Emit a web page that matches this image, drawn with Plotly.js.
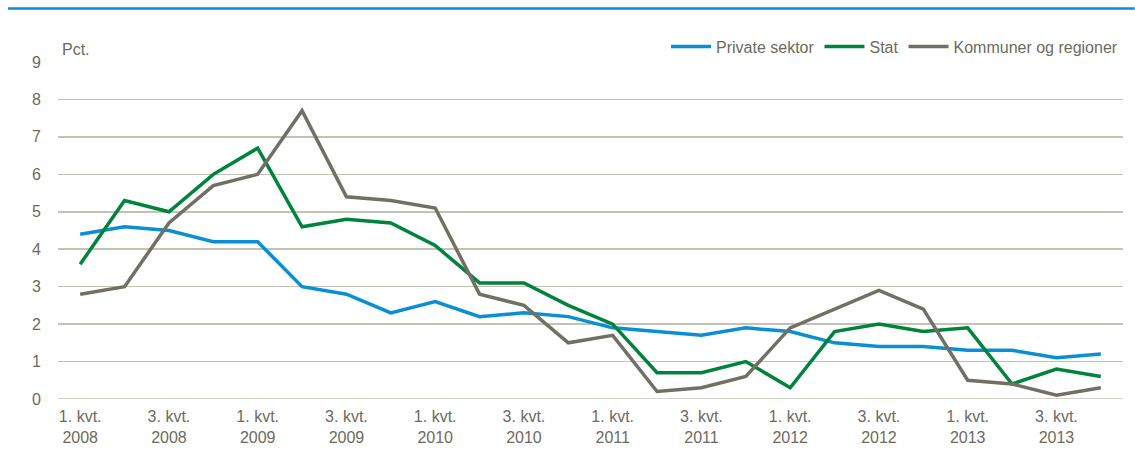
<!DOCTYPE html>
<html>
<head>
<meta charset="utf-8">
<script src="https://cdn.plot.ly/plotly-3.0.1.min.js"></script>
<style>html,body{margin:0;padding:0;background:#fff;}#chart{width:1135px;height:471px;}</style>
</head>
<body>
<div id="chart"></div>
<script>
const quarters = [
  "2008K1","2008K2","2008K3","2008K4",
  "2009K1","2009K2","2009K3","2009K4",
  "2010K1","2010K2","2010K3","2010K4",
  "2011K1","2011K2","2011K3","2011K4",
  "2012K1","2012K2","2012K3","2012K4",
  "2013K1","2013K2","2013K3","2013K4"
];
const privateSektor = [4.4,4.6,4.5,4.2,4.2,3.0,2.8,2.3,2.6,2.2,2.3,2.2,1.9,1.8,1.7,1.9,1.8,1.5,1.4,1.4,1.3,1.3,1.1,1.2];
const stat = [3.6,5.3,5.0,6.0,6.7,4.6,4.8,4.7,4.1,3.1,3.1,2.5,2.0,0.7,0.7,1.0,0.3,1.8,2.0,1.8,1.9,0.4,0.8,0.6];
const kommuner = [2.8,3.0,4.7,5.7,6.0,7.7,5.4,5.3,5.1,2.8,2.5,1.5,1.7,0.2,0.3,0.6,1.9,2.4,2.9,2.4,0.5,0.4,0.1,0.3];
const tickQuarters = ["2008K1","2008K3","2009K1","2009K3","2010K1","2010K3","2011K1","2011K3","2012K1","2012K3","2013K1","2013K3"];
const tickLabels = ["1. kvt.<br>2008","3. kvt.<br>2008","1. kvt.<br>2009","3. kvt.<br>2009","1. kvt.<br>2010","3. kvt.<br>2010","1. kvt.<br>2011","3. kvt.<br>2011","1. kvt.<br>2012","3. kvt.<br>2012","1. kvt.<br>2013","3. kvt.<br>2013"];
const seriesNames = ["Private sektor","Stat","Kommuner og regioner"];
const colors = ["#0a8fd6","#00843c","#727064"];

const font = "'Liberation Sans', Arial, sans-serif";
const textColor = "#6d6b5e";

const data = [privateSektor, stat, kommuner].map((ys, i) => ({
  type: "scatter", mode: "lines", x: quarters, y: ys, name: seriesNames[i],
  line: {color: colors[i], width: 3.5}, hoverinfo: "x+y+name"
}));

const layout = {
  width: 1135, height: 471,
  margin: {l: 58, r: 12, t: 62, b: 72},
  paper_bgcolor: "#fff", plot_bgcolor: "#fff",
  font: {family: font, size: 16, color: textColor},
  showlegend: true,
  legend: {orientation: "h", x: 1.0, xanchor: "right", y: 0.995, yanchor: "bottom",
           font: {family: font, size: 16, color: textColor}, bgcolor: "rgba(0,0,0,0)",
           itemwidth: 40, tracegroupgap: 0, traceorder: "normal"},
  xaxis: {type: "category", categoryorder: "array", categoryarray: quarters,
          range: [-0.5, 23.5], tickmode: "array", tickvals: tickQuarters, ticktext: tickLabels,
          showgrid: false, zeroline: false, showline: false, ticks: "", ticklabelstandoff: 6,
          tickfont: {family: font, size: 16, color: textColor}, fixedrange: true},
  yaxis: {range: [0, 9], dtick: 1, tick0: 0, showgrid: true, gridcolor: "#c4c2b4", gridwidth: 1.5,
          zeroline: false, showline: false, ticks: "", ticklabelstandoff: 16,
          tickfont: {family: font, size: 16, color: textColor}, fixedrange: true},
  shapes: [
    {type: "line", xref: "paper", yref: "paper", x0: -0.047, x1: 1.011, y0: 1.1585, y1: 1.1585,
     line: {color: "#0a8fd6", width: 2.5}},
    {type: "line", xref: "paper", yref: "y", x0: 0, x1: 1, y0: 0, y1: 0,
     line: {color: "#c4c2b4", width: 1.5}}
  ],
  annotations: [
    {text: "Pct.", xref: "paper", yref: "paper", x: 0.002, y: 1.005, xanchor: "left", yanchor: "bottom",
     showarrow: false, font: {family: font, size: 16, color: textColor}}
  ]
};

Plotly.newPlot("chart", data, layout, {displayModeBar: false, staticPlot: true});
</script>
</body>
</html>
